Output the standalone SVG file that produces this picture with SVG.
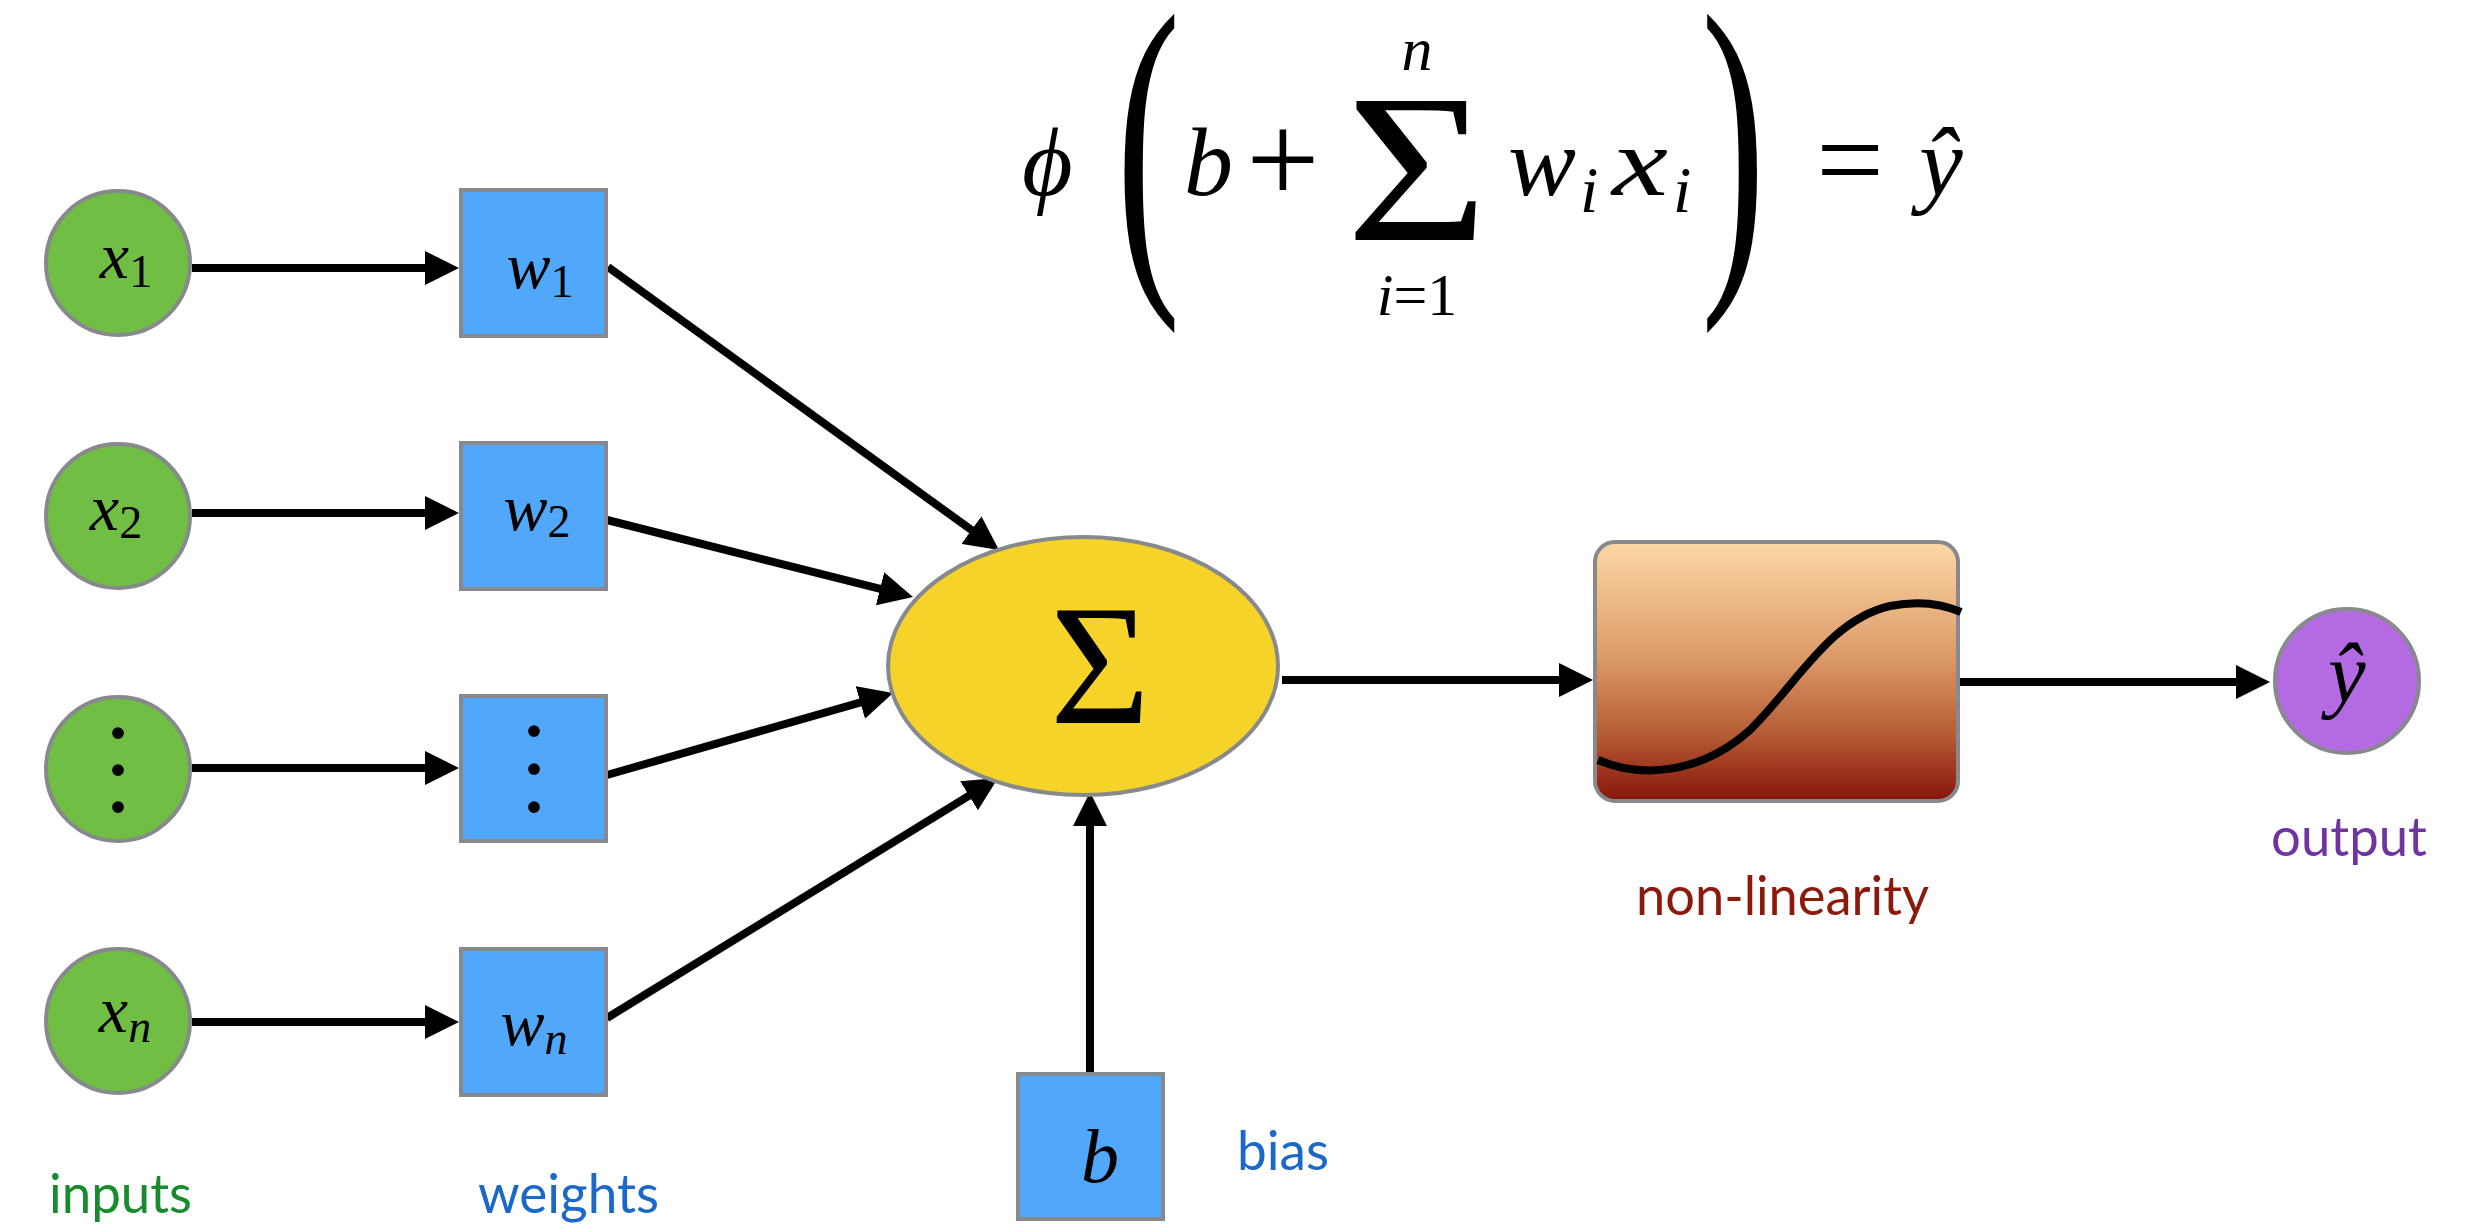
<svg xmlns="http://www.w3.org/2000/svg" width="2485" height="1224" viewBox="0 0 2485 1224">
<style>
.in{fill:#70bf44;stroke:#88898c;stroke-width:4}
.wb{fill:#51a7f9;stroke:#88898c;stroke-width:4}
.m{font-family:"Liberation Serif","DejaVu Serif",serif;font-style:italic;font-size:66px;fill:#000}
.r{font-family:"Liberation Serif","DejaVu Serif",serif;font-style:normal;fill:#000}
.sub{font-size:46px;font-style:normal}
.subi{font-size:46px}
.dots{font-family:"Liberation Serif","DejaVu Serif",serif;font-size:100px;fill:#000}
.lab{font-family:Lato,"Liberation Sans",sans-serif;font-size:54px}
.cn line{stroke:#000;stroke-width:8;marker-end:url(#ah)}
</style>
<defs>
<marker id="ah" markerUnits="userSpaceOnUse" markerWidth="34" markerHeight="34" refX="24" refY="17" orient="auto" viewBox="0 0 34 34">
<path d="M0,0 L34,17 L0,34 z" fill="#000"/>
</marker>
<linearGradient id="nlg" x1="0" y1="0" x2="0" y2="1">
<stop offset="0" stop-color="#fcd8a6"/>
<stop offset="0.45" stop-color="#dc9968"/>
<stop offset="0.75" stop-color="#b45a34"/>
<stop offset="1" stop-color="#871408"/>
</linearGradient>
</defs>
<rect width="2485" height="1224" fill="#fff"/>

<g id="formula">
<text class="m" x="1022" y="195" style="font-size:98px">ϕ</text>
<text class="r" transform="translate(1116,258) scale(0.55,1)" font-size="352">(</text>
<text class="m" x="1184" y="195" style="font-size:98px">b</text>
<text class="r" x="1283" y="203" font-size="130" text-anchor="middle">+</text>
<text class="r" transform="translate(1417,240) scale(1.15,1)" font-size="212" text-anchor="middle">Σ</text>
<text class="m" x="1417" y="70" text-anchor="middle" style="font-size:62px">n</text>
<text class="m" x="1417" y="315" text-anchor="middle" style="font-size:60px">i<tspan class="r">=1</tspan></text>
<text class="m" x="1508" y="195" style="font-size:98px" textLength="68" lengthAdjust="spacingAndGlyphs">w</text>
<text class="m" x="1580" y="212" style="font-size:66px">i</text>
<text class="m" x="1612" y="195" style="font-size:98px" textLength="56" lengthAdjust="spacingAndGlyphs">x</text>
<text class="m" x="1673" y="212" style="font-size:66px">i</text>
<text class="r" transform="translate(1701,258) scale(0.55,1)" font-size="352">)</text>
<text class="r" x="1850" y="200" font-size="120" text-anchor="middle">=</text>
<text class="m" x="1941" y="195" text-anchor="middle" style="font-size:98px">ŷ</text>
</g>

<g id="connectors" class="cn">
<line x1="192" y1="268" x2="449" y2="268"/>
<line x1="192" y1="513" x2="449" y2="513"/>
<line x1="192" y1="768" x2="449" y2="768"/>
<line x1="192" y1="1022" x2="449" y2="1022"/>
<line x1="608" y1="267" x2="990.9" y2="544.1"/>
<line x1="607" y1="520" x2="903.3" y2="594.6"/>
<line x1="607" y1="775" x2="883.4" y2="695.8"/>
<line x1="607" y1="1018" x2="989.5" y2="783.2"/>
<line x1="1090" y1="1072" x2="1090" y2="802"/>
<line x1="1282" y1="680" x2="1583" y2="680"/>
<line x1="1960" y1="682" x2="2260" y2="682"/>
</g>

<g id="x1"><circle class="in" cx="118" cy="263" r="72"/><text class="m" x="126" y="278" text-anchor="middle">x<tspan class="sub" dy="9">1</tspan></text></g>
<g id="x2"><circle class="in" cx="118" cy="516" r="72"/><text class="m" x="116" y="530" text-anchor="middle">x<tspan class="sub" dy="8">2</tspan></text></g>
<g id="x3"><circle class="in" cx="118" cy="769" r="72"/><text class="dots" text-anchor="middle"><tspan x="118" y="738">.</tspan><tspan x="118" y="775">.</tspan><tspan x="118" y="812">.</tspan></text></g>
<g id="xn"><circle class="in" cx="118" cy="1021" r="72"/><text class="m" x="125" y="1032" text-anchor="middle">x<tspan class="subi" dy="10">n</tspan></text></g>

<g id="w1"><rect class="wb" x="461" y="190" width="145" height="146"/><text class="m" x="540" y="288" text-anchor="middle">w<tspan class="sub" dy="9">1</tspan></text></g>
<g id="w2"><rect class="wb" x="461" y="443" width="145" height="146"/><text class="m" x="537" y="530" text-anchor="middle">w<tspan class="sub" dy="7">2</tspan></text></g>
<g id="w3"><rect class="wb" x="461" y="696" width="145" height="145"/><text class="dots" text-anchor="middle"><tspan x="534" y="736">.</tspan><tspan x="534" y="774">.</tspan><tspan x="534" y="812">.</tspan></text></g>
<g id="wn"><rect class="wb" x="461" y="949" width="145" height="146"/><text class="m" x="534" y="1045" text-anchor="middle">w<tspan class="subi" dy="9">n</tspan></text></g>

<g id="sum"><ellipse cx="1083" cy="666" rx="195" ry="129" fill="#f5d328" stroke="#88898c" stroke-width="4"/><text class="r" x="1100" y="723" font-size="172" text-anchor="middle">Σ</text></g>

<g id="bias"><rect class="wb" x="1018" y="1074" width="145" height="145"/><text class="m" x="1100" y="1182" text-anchor="middle" style="font-size:76px">b</text></g>

<g id="nonlin"><rect x="1595" y="542" width="363" height="259" rx="20" fill="url(#nlg)" stroke="#88898c" stroke-width="4"/>
<path d="M1598,760 C1640,778 1700,775 1750,730 C1800,680 1830,620 1890,606 C1920,600 1945,605 1961,612" fill="none" stroke="#000" stroke-width="8"/></g>

<g id="out"><circle cx="2347" cy="681" r="72" fill="#b36ae2" stroke="#88898c" stroke-width="4"/><text class="m" x="2347" y="702" text-anchor="middle" style="font-size:84px">ŷ</text></g>

<g id="labels">
<text class="lab" x="49" y="1213" fill="#178b2d" textLength="143" lengthAdjust="spacingAndGlyphs">inputs</text>
<text class="lab" x="478" y="1213" fill="#1a68c9" textLength="181" lengthAdjust="spacingAndGlyphs">weights</text>
<text class="lab" x="1237" y="1170" fill="#1a68c9" textLength="92" lengthAdjust="spacingAndGlyphs">bias</text>
<text class="lab" x="1636" y="915" fill="#8b1a0c" textLength="293" lengthAdjust="spacingAndGlyphs">non-linearity</text>
<text class="lab" x="2271" y="856" fill="#7034a0" textLength="156" lengthAdjust="spacingAndGlyphs">output</text>
</g>
</svg>
